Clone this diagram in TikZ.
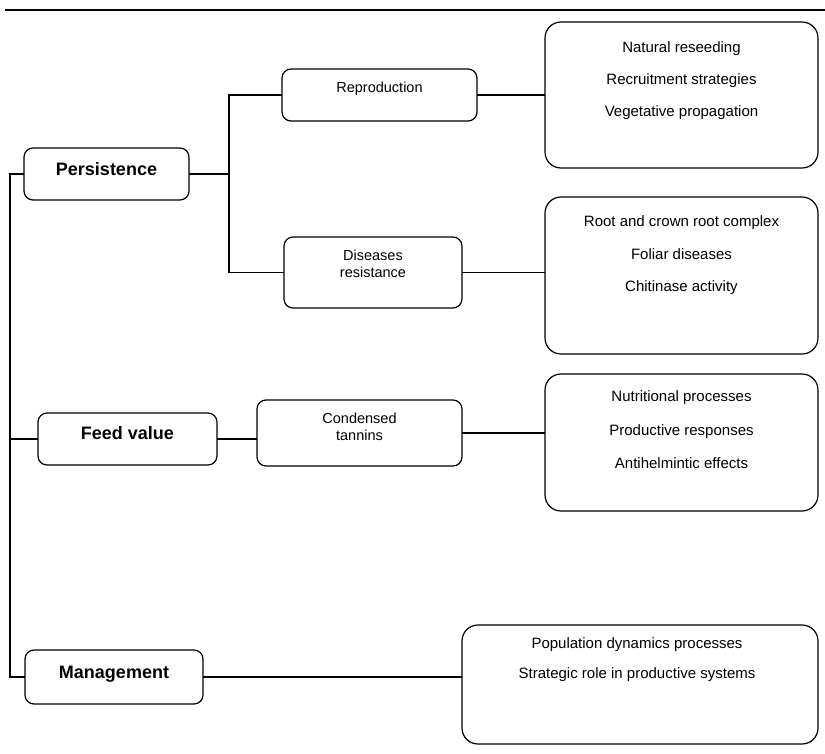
\documentclass[tikz,border=0pt]{standalone}
\usepackage{fontspec}
\setmainfont{Liberation Sans}
\usetikzlibrary{positioning}
\pgfkeys{tikz/mainbox/.style={draw, line width=1.2pt, rounded corners=9pt,
                                  inner sep=0pt, outer sep=0pt}}
\pgfkeys{tikz/listbox/.style={draw, line width=1.2pt, rounded corners=16pt,
                                  inner sep=0pt, outer sep=0pt}}
\pgfkeys{tikz/headtxt/.style={anchor=base, inner sep=0pt,
                                  font=\fontsize{18}{20}\selectfont\bfseries}}
\pgfkeys{tikz/subtxt/.style={anchor=base, inner sep=0pt, align=center,
                                  font=\fontsize{14.5}{16.5}\selectfont}}
\pgfkeys{tikz/listtxt/.style={anchor=base, inner sep=0pt,
                                  font=\fontsize{15}{17}\selectfont}}
\begin{document}
\begin{tikzpicture}[x=1pt, y=-1pt, line width=1.2pt]
            \useasboundingbox (0,0) rectangle (825,753);
            \coordinate (ruleL) at (5,10);
            \coordinate (ruleR) at (825,10);
            \draw[line width=2pt] (ruleL) -- (ruleR);

            % first level
            \node[mainbox, minimum width=165, minimum height=52] (persist) at (106.5,174) {};
            \node[mainbox, minimum width=179, minimum height=52] (feed) at (127.5,439) {};
            \node[mainbox, minimum width=178, minimum height=54] (manage) at (114,677) {};
            \node[headtxt] (persistT) at (106.5,175) {Persistence};
            \node[headtxt] (feedT) at (127.5,439) {Feed value};
            \node[headtxt] (manageT) at (114,678) {Management};

                    \coordinate (spine) at (10,677);
                    \draw (persist.west) -| (spine) -- (manage.west);
                    \draw (feed.west) -- (feed.west -| spine);

            % second level
            \node[mainbox, minimum width=195, minimum height=52] (repro) at (379.5,95) {};
            \node[mainbox, minimum width=178, minimum height=71] (disease) at (373,272.5) {};
            \node[mainbox, minimum width=205, minimum height=66] (tannin) at (359.5,433) {};
            \node[subtxt] (reproT) at (379.5,92) {Reproduction};
            \node[subtxt] (diseaseT) at (373,277) {Diseases\\resistance};
            \node[subtxt] (tanninT) at (359.5,440) {Condensed\\tannins};

                    \coordinate (fork) at (229,272.5);
                    \draw (persist.east) -- (persist.east -| fork);
                    \draw (repro.west) -| (fork) -- (disease.west);
                    \draw (feed.east) -- (feed.east -| tannin.west);

            % third level
            \node[listbox, minimum width=273, minimum height=146] (rb1) at (681.5,95) {};
            \node[listbox, minimum width=273, minimum height=157] (rb2) at (681.5,275.5) {};
            \node[listbox, minimum width=273, minimum height=137] (rb3) at (681.5,442.5) {};
            \node[listbox, minimum width=356, minimum height=119] (rb4) at (640,684.5) {};

                    \node[listtxt] (rb1a) at (681.5,52.3) {Natural reseeding};
                    \node[listtxt] (rb1b) at (681.5,84.5) {Recruitment strategies};
                    \node[listtxt] (rb1c) at (681.5,116.7) {Vegetative propagation};

                    \node[listtxt] (rb2a) at (681.5,226.7) {Root and crown root complex};
                    \node[listtxt] (rb2b) at (681.5,259) {Foliar diseases};
                    \node[listtxt] (rb2c) at (681.5,291.7) {Chitinase activity};

                    \node[listtxt] (rb3a) at (681.5,401.7) {Nutritional processes};
                    \node[listtxt] (rb3b) at (681.5,435) {Productive responses};
                    \node[listtxt] (rb3c) at (681.5,468) {Antihelmintic effects};

                    \node[listtxt] (rb4a) at (637,648) {Population dynamics processes};
                    \node[listtxt] (rb4b) at (637,678) {Strategic role in productive systems};

                    \draw (repro.east) -- (rb1.west);
                    \draw (disease.east) -- (disease.east -| rb2.west);
                    \draw (tannin.east) -- (tannin.east -| rb3.west);
                    \draw (manage.east) -- (manage.east -| rb4.west);
        \end{tikzpicture}
\end{document}
